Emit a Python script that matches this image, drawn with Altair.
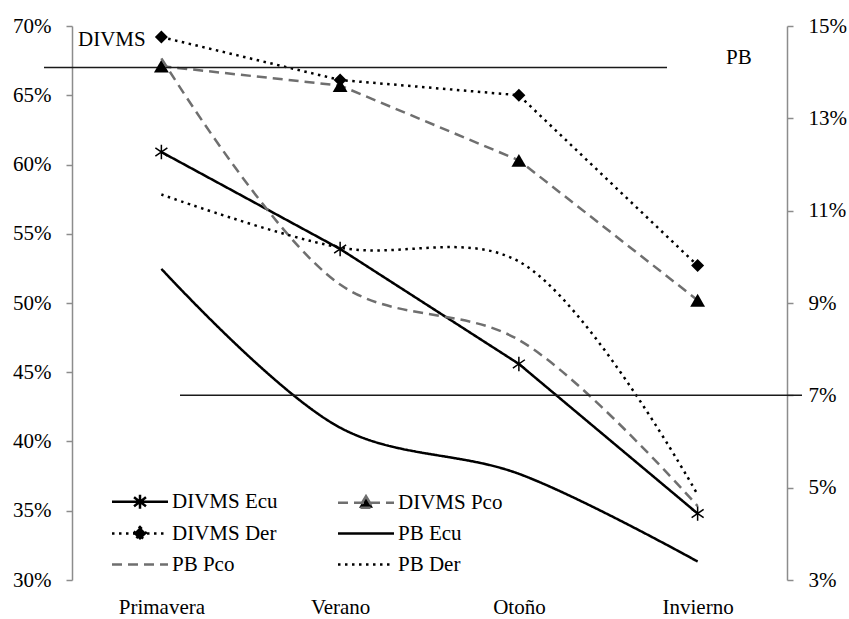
import altair as alt
import pandas as pd

FONT = "Liberation Serif"
FS = 21

seasons = ["Primavera", "Verano", "Otoño", "Invierno"]
series = ["DIVMS Ecu", "DIVMS Pco", "DIVMS Der", "PB Ecu", "PB Pco", "PB Der"]

divms_ecu = [0.609, 0.539, 0.456, 0.348]
divms_pco = [0.671, 0.657, 0.603, 0.502]
divms_der = [0.692, 0.661, 0.650, 0.527]
pb_ecu = [0.0974, 0.063, 0.053, 0.034]
pb_pco = [0.143, 0.094, 0.082, 0.046]
pb_der = [0.1135, 0.102, 0.099, 0.0485]

divms_ticks = [0.30, 0.35, 0.40, 0.45, 0.50, 0.55, 0.60, 0.65, 0.70]
pb_ticks = [0.03, 0.05, 0.07, 0.09, 0.11, 0.13, 0.15]
divms_ref = [0.67]
pb_ref = [0.07]

series_colors = ["black", "#6f6f6f", "black", "black", "#6f6f6f", "black"]
series_dash = [[1, 0], [10, 6], [2.5, 4.5], [1, 0], [10, 6], [2.5, 4.5]]
legend_fill = ["transparent", "black", "black", "transparent", "transparent", "transparent"]


def long_df(names, arrays):
    rows = []
    for n, vals in zip(names, arrays):
        for s, v in zip(seasons, vals):
            rows.append({"season": s, "series": n, "value": v})
    return pd.DataFrame(rows)


divms_df = long_df(series[:3], [divms_ecu, divms_pco, divms_der])
pb_df = long_df(series[3:], [pb_ecu, pb_pco, pb_der])

# legend symbol paths (line + marker)
LINE = "M-2.8,0L2.8,0"
sym_paths = {
    "DIVMS Ecu": LINE + "M-0.6,-0.45L0.6,0.45M-0.6,0.45L0.6,-0.45M0,-0.7L0,0.7",
    "DIVMS Pco": LINE + "M0,-0.65L0.7,0.5L-0.7,0.5Z",
    "DIVMS Der": LINE + "M0,-0.65L0.65,0L0,0.65L-0.65,0Z",
}
shape_expr = ""
for k, p in sym_paths.items():
    shape_expr += f"datum.value == '{k}' ? '{p}' : "
shape_expr += f"'{LINE}'"

legend = alt.Legend(
    title=None, orient="none", legendX=40, legendY=464, columns=2,
    direction="horizontal",
    symbolSize=400, symbolStrokeWidth=2.5, symbolOffset=16.5, labelOffset=20.5,
    labelFont=FONT, labelFontSize=FS, labelColor="black",
    rowPadding=8, columnPadding=55,
    symbolType={"expr": shape_expr},
)

x_enc = alt.X(
    "season:N",
    scale=alt.Scale(type="point", domain=seasons, padding=0.5),
    axis=alt.Axis(title=None, domain=False, ticks=False, tickSize=0, labelAngle=0,
                  labelFont=FONT, labelFontSize=FS, labelColor="black",
                  labelPadding=16, grid=False),
)
color_enc = alt.Color("series:N", scale=alt.Scale(domain=series, range=series_colors), legend=legend)
dash_enc = alt.StrokeDash("series:N", scale=alt.Scale(domain=series, range=series_dash), legend=legend)

left_axis = alt.Axis(title=None, values=divms_ticks, format=".0%", orient="left",
                     domainColor="#8c8c8c", domainWidth=1.5, tickColor="#8c8c8c",
                     tickWidth=1.5, tickSize=6, labelFont=FONT, labelFontSize=FS,
                     labelColor="black", labelPadding=15, grid=False)
right_axis = alt.Axis(title=None, values=pb_ticks, format=".0%", orient="right",
                      domainColor="#8c8c8c", domainWidth=1.5, tickColor="#8c8c8c",
                      tickWidth=1.5, tickSize=6, labelFont=FONT, labelFontSize=FS,
                      labelColor="black", labelPadding=15, grid=False)

y_divms = alt.Y("value:Q", scale=alt.Scale(domain=[0.30, 0.70], nice=False, zero=False),
                axis=left_axis, title=None)
y_divms_plain = alt.Y("value:Q", title=None)
y_pb = alt.Y("value:Q", scale=alt.Scale(domain=[0.03, 0.15], nice=False, zero=False),
             axis=right_axis, title=None)
y_pb_plain = alt.Y("value:Q", title=None)

AST = "M-1,-0.7L1,0.7M-1,0.7L1,-0.7M0,-1.2L0,1.2"

# empty layer that only adds a fill scale to the shared legend
fill_layer = alt.Chart(divms_df).transform_filter("false").mark_point(
    filled=True, opacity=1).encode(
    x=x_enc, y=y_divms_plain,
    fill=alt.Fill("series:N", scale=alt.Scale(domain=series, range=legend_fill), legend=legend),
)

divms_lines = alt.Chart(divms_df).mark_line(strokeWidth=2.5).encode(
    x=x_enc, y=y_divms, color=color_enc, strokeDash=dash_enc)
ast_pts = alt.Chart(divms_df).transform_filter(alt.datum.series == "DIVMS Ecu").mark_point(
    shape=AST, filled=False, size=144, stroke="black", strokeWidth=1.5, opacity=1).encode(
    x=x_enc, y=y_divms_plain)
tri_pts = alt.Chart(divms_df).transform_filter(alt.datum.series == "DIVMS Pco").mark_point(
    shape="triangle-up", filled=True, size=220, color="black", opacity=1).encode(
    x=x_enc, y=y_divms_plain)
dia_pts = alt.Chart(divms_df).transform_filter(alt.datum.series == "DIVMS Der").mark_point(
    shape="diamond", filled=True, size=170, color="black", opacity=1).encode(
    x=x_enc, y=y_divms_plain)
divms_rule = alt.Chart(pd.DataFrame({"value": divms_ref})).mark_rule(
    color="#1a1a1a", strokeWidth=1.5).encode(
    y=y_divms_plain, x=alt.value(-28), x2=alt.value(595))
divms_text = alt.Chart(pd.DataFrame({"t": ["DIVMS"]})).mark_text(
    font=FONT, fontSize=FS, align="left", baseline="alphabetic", color="black").encode(
    text="t:N", x=alt.value(6), y=alt.value(20))

pb_lines = alt.Chart(pb_df).mark_line(strokeWidth=2.5, interpolate="catmull-rom").encode(
    x=x_enc, y=y_pb, color=color_enc, strokeDash=dash_enc)
pb_rule = alt.Chart(pd.DataFrame({"value": pb_ref})).mark_rule(
    color="#1a1a1a", strokeWidth=1.5).encode(
    y=y_pb_plain, x=alt.value(108), x2=alt.value(730))
pb_text = alt.Chart(pd.DataFrame({"t": ["PB"]})).mark_text(
    font=FONT, fontSize=FS, align="left", baseline="alphabetic", color="black").encode(
    text="t:N", x=alt.value(654), y=alt.value(38))

divms_layer = alt.layer(divms_lines, divms_rule, ast_pts, tri_pts, dia_pts, divms_text, fill_layer)
pb_layer = alt.layer(pb_lines, pb_rule, pb_text)

chart = alt.layer(divms_layer, pb_layer).resolve_scale(y="independent").properties(
    width=715, height=554,
    padding={"left": 72, "top": 26, "right": 62, "bottom": 39},
    autosize=alt.AutoSizeParams(type="none"),
    background="white",
).configure_view(stroke=None)

chart.save("out.html", embed_options={"renderer": "svg", "actions": False})
